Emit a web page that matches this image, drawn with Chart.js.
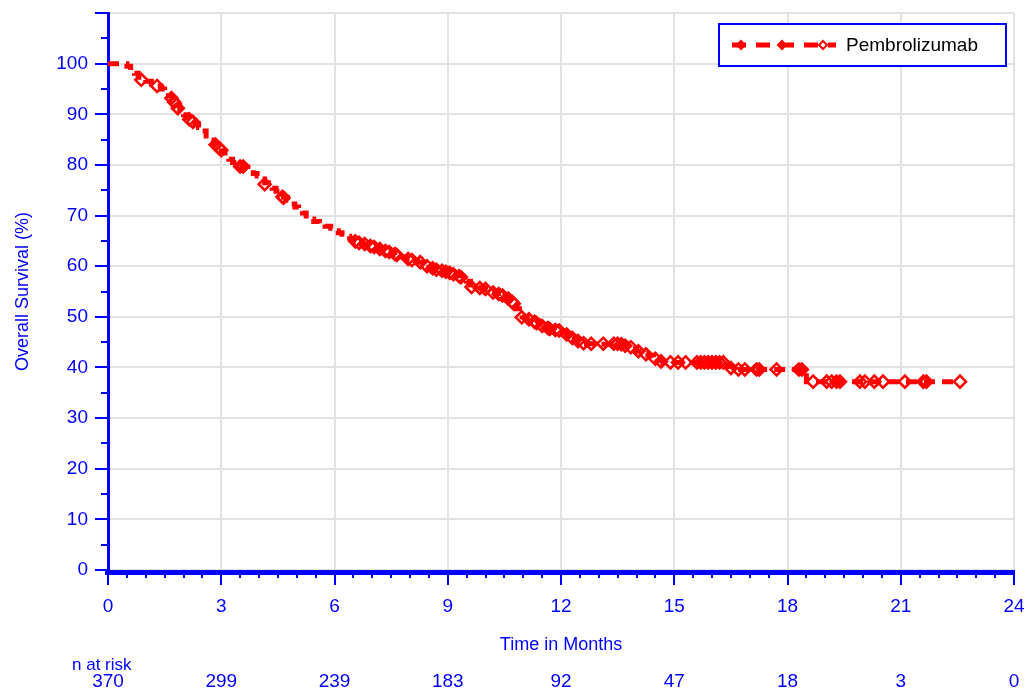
<!DOCTYPE html>
<html><head><meta charset="utf-8">
<script src="https://cdn.jsdelivr.net/npm/chart.js@4.4.0/dist/chart.umd.min.js"></script>
<style>html,body{margin:0;padding:0;background:#fff;}#wrap{width:1026px;height:693px;position:relative;}</style>
</head><body><div id="wrap"><canvas id="c" width="1026" height="693"></canvas></div>
<script>
// Kaplan-Meier step points (time in months, overall survival %)
const kmTimes = [0,0.5,0.6,0.7,0.8,0.9,1.0,1.15,1.3,1.4,1.5,1.6,1.7,1.8,1.9,2.0,2.1,2.2,2.3,2.4,2.5,2.6,2.7,2.8,2.9,3.0,3.1,3.2,3.3,3.4,3.55,3.7,3.85,3.95,4.05,4.15,4.25,4.35,4.45,4.55,4.65,4.75,4.85,4.95,5.05,5.15,5.25,5.35,5.45,5.6,5.75,5.9,6.0,6.1,6.2,6.3,6.4,6.5,6.6,6.75,6.9,7.05,7.2,7.35,7.5,7.6,7.75,7.9,8.05,8.2,8.35,8.5,8.65,8.8,8.95,9.1,9.25,9.4,9.5,9.6,9.7,9.85,10.0,10.15,10.3,10.45,10.55,10.65,10.75,10.82,10.9,10.97,11.1,11.25,11.4,11.5,11.65,11.8,11.95,12.05,12.15,12.25,12.35,12.45,12.6,12.9,13.75,13.9,14.0,14.15,14.3,14.45,14.55,14.7,16.4,16.55,18.5,22.57];
const kmSurv  = [100,99.5,98.6,98.1,97.3,96.8,96.5,96.0,95.6,95.0,94.4,93.6,92.8,91.8,90.7,89.9,89.3,88.7,88.1,87.4,86.7,85.7,84.9,84.2,83.6,82.8,81.8,81.1,80.5,80.0,79.6,79.0,78.3,77.8,77.2,76.5,75.9,75.4,74.8,74.2,73.6,73.0,72.3,71.7,71.1,70.5,69.9,69.3,68.8,68.4,67.9,67.5,67.0,66.6,66.3,65.9,65.5,65.0,64.7,64.4,64.0,63.7,63.4,63.0,62.6,62.2,61.8,61.4,61.1,60.8,60.4,59.9,59.5,59.2,58.9,58.5,58.1,57.6,57.0,56.3,55.9,55.7,55.4,55.0,54.6,54.2,53.8,53.2,52.4,51.6,50.8,50.0,49.6,49.2,48.6,48.1,47.7,47.4,47.1,46.8,46.4,46.0,45.5,45.0,44.7,44.6,44.2,43.7,43.2,42.8,42.4,41.9,41.4,41.0,40.2,39.6,37.2,37.2];
// Censored observations
const censorTimes = [0.88,1.3,1.68,1.75,1.85,2.15,2.25,2.85,2.95,3.0,3.5,3.58,4.15,4.62,4.65,6.55,6.65,6.8,6.95,7.05,7.2,7.35,7.45,7.6,7.65,7.95,8.05,8.27,8.45,8.6,8.7,8.85,8.95,9.05,9.15,9.3,9.35,9.63,9.85,10.0,10.2,10.35,10.45,10.6,10.7,10.75,10.96,11.15,11.3,11.35,11.5,11.65,11.7,11.85,11.95,12.15,12.3,12.45,12.6,12.8,13.12,13.4,13.5,13.6,13.7,13.85,14.05,14.25,14.5,14.65,14.9,15.1,15.3,15.6,15.7,15.8,15.9,16.0,16.1,16.2,16.3,16.5,16.7,16.87,17.18,17.25,17.71,18.3,18.38,18.68,19.04,19.17,19.3,19.39,19.92,20.05,20.3,20.53,21.11,21.6,21.68,22.57];
const censorSurv  = [96.8,95.6,93.2,92.4,91.2,89.0,88.5,84.0,83.3,82.9,79.7,79.7,76.2,73.7,73.5,64.9,64.6,64.4,64.0,63.8,63.4,63.0,62.8,62.4,62.2,61.4,61.2,60.8,60.0,59.6,59.3,59.1,58.9,58.7,58.4,58.0,57.8,55.9,55.7,55.5,54.8,54.5,54.2,53.6,53.0,52.6,49.9,49.5,49.0,48.8,48.2,47.8,47.6,47.4,47.3,46.5,45.8,45.2,44.8,44.7,44.7,44.7,44.7,44.6,44.3,44.0,43.2,42.6,41.7,41.2,41.0,41.0,41.0,41.0,41.0,41.0,41.0,41.0,41.0,41.0,41.0,39.9,39.6,39.6,39.6,39.6,39.6,39.6,39.6,37.2,37.2,37.2,37.2,37.2,37.2,37.2,37.2,37.2,37.2,37.2,37.2,37.2];
const xTickValues = [0,3,6,9,12,15,18,21,24];
const riskCounts = [370,299,239,183,92,47,18,3,0];
const seriesName = 'Pembrolizumab';
const xTitle = 'Time in Months';
const yTitle = 'Overall Survival (%)';
const riskLabel = 'n at risk';

const BLUE = '#0000ff', RED = '#ff0000', GRID = '#e2e2e2';
const FONT = 'Liberation Sans, Arial, sans-serif';

const decor = {
  id: 'decor',
  afterDraw(chart) {
    const {ctx, chartArea: a, scales: {x, y}} = chart;
    const y0 = Math.round(y.getPixelForValue(0));
    ctx.save();
    // x axis line
    ctx.fillStyle = BLUE;
    ctx.fillRect(a.left - 3, y0, a.right - a.left + 3, 5);
    // minor ticks
    ctx.strokeStyle = BLUE; ctx.lineWidth = 2;
    ctx.beginPath();
    for (let t = 0.5; t < 24; t += 0.5) {
      if (Math.abs(t % 3) < 1e-6) continue;
      const px = Math.round(x.getPixelForValue(t));
      ctx.moveTo(px, y0); ctx.lineTo(px, y0 + 8);
    }
    for (let v = 5; v < 110; v += 10) {
      const py = Math.round(y.getPixelForValue(v));
      ctx.moveTo(a.left - 7, py); ctx.lineTo(a.left, py);
    }
    ctx.stroke();
    // risk table
    ctx.fillStyle = BLUE;
    ctx.font = '17px ' + FONT;
    ctx.textBaseline = 'middle';
    ctx.textAlign = 'left';
    ctx.fillText(riskLabel, 72, 665);
    ctx.font = '19px ' + FONT;
    ctx.textAlign = 'center';
    xTickValues.forEach((t, i) => ctx.fillText(String(riskCounts[i]), x.getPixelForValue(t), 682));
    // legend
    ctx.fillStyle = '#fff';
    ctx.fillRect(719, 24, 287, 42);
    ctx.strokeStyle = BLUE; ctx.lineWidth = 2;
    ctx.strokeRect(719, 24, 287, 42);
    ctx.strokeStyle = RED; ctx.lineWidth = 5;
    ctx.setLineDash([14, 10]);
    ctx.beginPath(); ctx.moveTo(732, 45); ctx.lineTo(836, 45); ctx.stroke();
    ctx.setLineDash([]);
    const diamond = (cx, cy, r, filled) => {
      ctx.beginPath();
      ctx.moveTo(cx, cy - r); ctx.lineTo(cx + r, cy); ctx.lineTo(cx, cy + r); ctx.lineTo(cx - r, cy); ctx.closePath();
      ctx.lineWidth = 2; ctx.strokeStyle = RED;
      ctx.fillStyle = filled ? RED : '#fff'; ctx.fill();
      ctx.stroke();
    };
    diamond(741, 45, 4, true);
    diamond(782, 45, 4, true);
    diamond(823, 45, 4, false);
    ctx.fillStyle = '#000';
    ctx.font = '19px ' + FONT;
    ctx.textAlign = 'left';
    ctx.fillText(seriesName, 846, 46);
    ctx.restore();
  }
};

new Chart(document.getElementById('c'), {
  type: 'line',
  data: {
    datasets: [
      {
        label: seriesName,
        data: kmTimes.map((t, i) => ({x: t, y: kmSurv[i]})),
        stepped: true,
        borderColor: RED,
        borderWidth: 5,
        borderDash: [11, 7],
        pointRadius: 0,
        fill: false,
        order: 2
      },
      {
        label: seriesName + ' censored',
        data: censorTimes.map((t, i) => ({x: t, y: censorSurv[i]})),
        showLine: false,
        pointStyle: 'rectRot',
        pointRadius: 6,
        pointBorderWidth: 2.5,
        pointBorderColor: RED,
        pointBackgroundColor: 'rgba(255,255,255,0)',
        order: 1
      }
    ]
  },
  options: {
    responsive: false,
    animation: false,
    devicePixelRatio: 1,
    layout: {padding: {left: 0, top: 13, right: 12, bottom: 0}},
    plugins: {legend: {display: false}, tooltip: {enabled: false}},
    scales: {
      x: {
        type: 'linear', min: 0, max: 24, position: 'bottom',
        afterBuildTicks: s => { s.ticks = xTickValues.map(v => ({value: v})); },
        afterFit: s => { s.height = 123; s.paddingLeft = 0; s.paddingRight = 0; },
        ticks: {color: BLUE, font: {family: FONT, size: 19}, padding: 10, maxRotation: 0, autoSkip: false},
        grid: {color: GRID, lineWidth: 2, drawTicks: true, tickLength: 15, tickColor: BLUE, tickWidth: 2},
        border: {display: false},
        title: {display: true, text: xTitle, color: BLUE, font: {family: FONT, size: 18}, padding: {top: 0, bottom: 37}}
      },
      y: {
        min: 0, max: 110,
        afterFit: s => { s.width = 108; s.paddingTop = 0; s.paddingBottom = 0; },
        ticks: {stepSize: 10, color: BLUE, font: {family: FONT, size: 19}, padding: 7, callback: v => v === 110 ? '' : v},
        grid: {color: GRID, lineWidth: 2, drawTicks: true, tickLength: 13, tickColor: BLUE, tickWidth: 2},
        border: {display: true, color: BLUE, width: 3},
        title: {display: true, text: yTitle, color: BLUE, font: {family: FONT, size: 18}, padding: {top: 12, bottom: 0}}
      }
    }
  },
  plugins: [decor]
});
</script></body></html>
